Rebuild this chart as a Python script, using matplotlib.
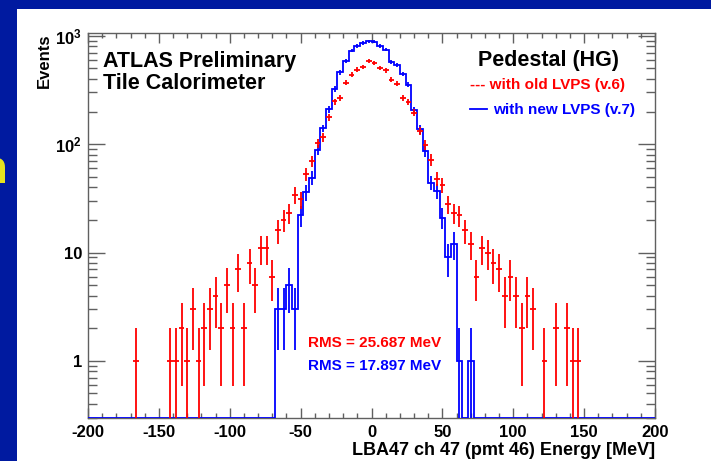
import numpy as np
import matplotlib
matplotlib.use("Agg")
import matplotlib.pyplot as plt
from matplotlib.lines import Line2D
from matplotlib.patches import Rectangle
from matplotlib.ticker import MultipleLocator, FixedLocator, LogLocator, NullFormatter

# ---------------- data ----------------
bin_low, bin_high, bin_width = -200, 200, 4

old_centers = [-166, -142, -138, -134, -130, -126, -122, -118, -114, -110,
               -106, -102, -98, -94, -90, -86, -82, -78, -74, -70,
               -66, -62, -58, -54, -50, -46, -42, -38, -34, -30, -26, -22, -18, -14, -10, -6, -2,
               2, 6, 10, 14, 18, 22, 26, 30, 34, 38, 42, 46, 50, 54, 58, 62, 66, 70, 74, 78, 82,
               86, 90, 94, 98, 102, 106, 110, 114,
               122, 130, 138, 142, 146]
old_counts = [1, 1, 1, 2, 1, 3, 1, 2, 3, 4,
              2, 5, 2, 7, 2, 8, 5, 11, 11, 6,
              16, 20, 23, 34, 31, 53, 70, 102, 116, 177, 248, 268, 370, 439, 488, 513, 591,
              558, 501, 480, 393, 362, 266, 246, 195, 133, 99, 72, 48, 42, 28, 23, 22, 16, 12, 6, 11, 10,
              8, 7, 4, 6, 4, 2, 4, 3,
              1, 2, 2, 1, 1]

new_centers = [-66, -62, -58, -54, -50, -46, -42, -38, -34, -30,
               -26, -22, -18, -14, -10, -6, -2, 2, 6, 10,
               14, 18, 22, 26, 30, 34, 38, 42, 46, 50,
               54, 58, 62, 70]
new_counts = [3, 3, 5, 3, 22, 36, 49, 88, 140, 210,
              324, 461, 585, 731, 805, 860, 890, 885, 805, 746,
              575, 540, 446, 353, 205, 137, 86, 44, 37, 21,
              9, 12, 1, 1]

x_ticks = [-200, -150, -100, -50, 0, 50, 100, 150, 200]
y_ticks = [1, 10, 100, 1000]
y_tick_labels = ["1", "10", r"$10^{2}$", r"$10^{3}$"]
x_limits = (-200, 200)
y_limits = (0.295, 1055)

rms_old = "RMS = 25.687 MeV"
rms_new = "RMS = 17.897 MeV"

# ---------------- style ----------------
plt.rcParams["font.family"] = ["Liberation Sans", "DejaVu Sans"]
plt.rcParams["font.weight"] = "bold"
plt.rcParams["axes.unicode_minus"] = False
plt.rcParams["mathtext.fontset"] = "custom"
plt.rcParams["mathtext.rm"] = "Liberation Sans:bold"
plt.rcParams["mathtext.bf"] = "Liberation Sans:bold"
plt.rcParams["mathtext.it"] = "Liberation Sans:bold"
plt.rcParams["mathtext.default"] = "rm"

RED = "#ff0000"
BLUE = "#0000ff"
NAVY = "#001aa0"
FRAME = "#606060"

W, H = 711, 461
fig = plt.figure(figsize=(W / 100, H / 100), dpi=100)
fig.patch.set_facecolor("white")


def fx(x):
    return x / W


def fy(y):
    return 1 - y / H


# slide background bands
fig.add_artist(Rectangle((0, fy(9.3)), 1, 9.3 / H, transform=fig.transFigure,
                         facecolor=NAVY, edgecolor="none", zorder=1))
fig.add_artist(Rectangle((0, 0), 17.3 / W, 1, transform=fig.transFigure,
                         facecolor=NAVY, edgecolor="none", zorder=1))
fig.text(fx(7.3), fy(183.3), "n", color="#e6e21e", fontsize=34, ha="right",
         va="baseline", zorder=2)

ax = fig.add_axes([fx(88), fy(418.3), (655 - 88) / W, (418.3 - 33.3) / H])

# ---------------- histograms ----------------
edges = np.arange(bin_low, bin_high + bin_width, bin_width)
centers = edges[:-1] + bin_width / 2
nb = len(centers)

old = np.zeros(nb)
old[((np.array(old_centers) - centers[0]) / bin_width).astype(int)] = old_counts
new = np.zeros(nb)
new[((np.array(new_centers) - centers[0]) / bin_width).astype(int)] = new_counts

ax.set_yscale("log")

new_draw = np.where(new > 0, new, y_limits[0])
ax.stairs(new_draw, edges, baseline=None, color=BLUE, lw=1.3, zorder=3)
m = new > 0
ax.errorbar(centers[m], new[m], yerr=np.sqrt(new[m]), fmt="none",
            ecolor=BLUE, elinewidth=1.3, capsize=0, zorder=3)

m = old > 0
ax.errorbar(centers[m], old[m], xerr=bin_width / 2, yerr=np.sqrt(old[m]), fmt="none",
            ecolor=RED, elinewidth=1.3, capsize=0, zorder=4)

ax.set_xlim(*x_limits)
ax.set_ylim(*y_limits)

ax.xaxis.set_major_locator(FixedLocator(x_ticks))
ax.set_xticklabels([str(t) for t in x_ticks])
ax.xaxis.set_minor_locator(MultipleLocator(10))
ax.yaxis.set_major_locator(FixedLocator(y_ticks))
ax.set_yticklabels(y_tick_labels)
ax.yaxis.set_minor_locator(LogLocator(base=10, subs=np.arange(2, 10)))
ax.yaxis.set_minor_formatter(NullFormatter())

ax.tick_params(which="both", direction="in", top=True, right=True,
               color=FRAME, width=1, labelsize=12)
ax.tick_params(axis="x", which="major", length=7.2, pad=4.5)
ax.tick_params(axis="x", which="minor", length=3.6)
ax.tick_params(axis="y", which="major", length=12.5, pad=4.3)
ax.tick_params(axis="y", which="minor", length=6.8)
for s in ax.spines.values():
    s.set_color(FRAME)
    s.set_linewidth(1)

# ---------------- texts ----------------
fig.text(fx(103), fy(66.7), "ATLAS Preliminary", fontsize=15.5, va="baseline")
fig.text(fx(103), fy(89.3), "Tile Calorimeter", fontsize=15.5, va="baseline")
fig.text(fx(478), fy(66), "Pedestal (HG)", fontsize=15.5, va="baseline")
fig.text(fx(470), fy(88.7), "--- with old LVPS (v.6)", color=RED, fontsize=11, va="baseline")
fig.add_artist(Line2D([fx(470), fx(487)], [fy(109.3), fy(109.3)],
                      transform=fig.transFigure, color=BLUE, lw=1.3))
fig.text(fx(493), fy(114), "with new LVPS (v.7)", color=BLUE, fontsize=11, va="baseline")
fig.text(fx(308), fy(346.7), rms_old, color=RED, fontsize=11, va="baseline")
fig.text(fx(308), fy(370), rms_new, color=BLUE, fontsize=11, va="baseline")
fig.text(fx(655), fy(455), "LBA47 ch 47 (pmt 46) Energy [MeV]", fontsize=13,
         ha="right", va="baseline")
fig.text(fx(48.5), fy(33.3), "Events", fontsize=12, rotation=90,
         rotation_mode="anchor", ha="right", va="baseline")

fig.savefig("out.png", dpi=100)
